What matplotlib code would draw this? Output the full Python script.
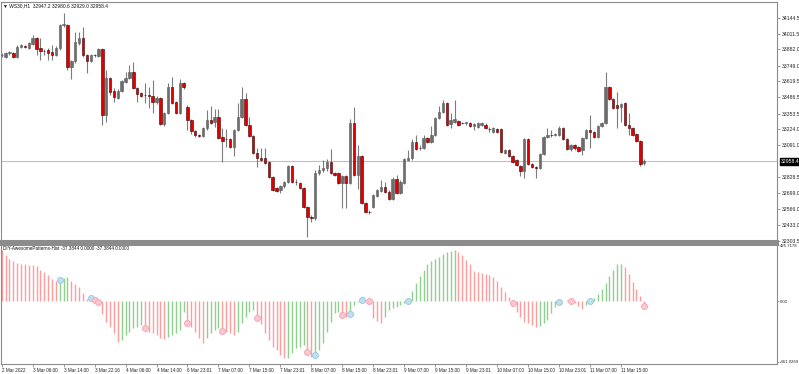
import numpy as np
import matplotlib.pyplot as plt

plt.rcParams['font.family'] = ['Liberation Sans', 'DejaVu Sans']

# WS30 H1 candles
opens = [
    33835, 33820, 33853, 33853, 33820, 33903, 33911, 33894, 33927, 33977,
    33894, 33870, 33878, 33861, 33837, 33894, 34084, 34084, 33738, 33787,
    33936, 33977, 33837, 33787, 33837, 33828, 33886, 33341, 33647, 33539,
    33482, 33539, 33614, 33647, 33696, 33564, 33523, 33506, 33506, 33498,
    33449, 33482, 33267, 33358, 33572, 33449, 33358, 33605, 33407, 33300,
    33209, 33176, 33168, 33234, 33300, 33283, 33325, 33160, 33143, 33143,
    33077, 33217, 33325, 33473, 33259, 33168, 33027, 32986, 32986, 32953,
    32829, 32738, 32722, 32755, 32788, 32920, 32788, 32780, 32738, 32582,
    32499, 32491, 32862, 32887, 32904, 32953, 32862, 32862, 32780, 32838,
    32780, 33275, 32846, 33003, 32615, 32540, 32582, 32672, 32714, 32747,
    32705, 32648, 32813, 32697, 32780, 32970, 32986, 33118, 33069, 33069,
    33151, 33118, 33176, 33316, 33366, 33440, 33267, 33283, 33292, 33275,
    33275, 33275, 33250, 33242, 33259, 33259, 33226, 33201, 33226, 33226,
    33027, 33052, 33003, 32970, 32920, 32879, 33143, 32937, 32912, 32904,
    33019, 33160, 33176, 33176, 33176, 33234, 33143, 33060, 33093, 33077,
    33052, 33151, 33217, 33201, 33160, 33250, 33275, 33572, 33473, 33424,
    33407, 33440, 33259, 33234, 33184, 33126, 32947.2]

closes = [
    33840, 33853, 33855, 33820, 33903, 33919, 33903, 33936, 33977, 33886,
    33870, 33868, 33853, 33837, 33894, 34084, 34086, 33738, 33787, 33944,
    33977, 33837, 33787, 33837, 33835, 33886, 33341, 33647, 33531, 33490,
    33539, 33622, 33647, 33696, 33564, 33515, 33498, 33504, 33498, 33449,
    33482, 33267, 33358, 33572, 33440, 33358, 33605, 33572, 33300, 33209,
    33176, 33170, 33234, 33300, 33275, 33325, 33151, 33126, 33141, 33077,
    33217, 33325, 33473, 33259, 33168, 33027, 32986, 32970, 32945, 32829,
    32722, 32714, 32755, 32788, 32920, 32788, 32786, 32738, 32582, 32499,
    32491, 32862, 32887, 32904, 32953, 32862, 32846, 32780, 32838, 32780,
    33275, 32846, 33003, 32615, 32540, 32538, 32681, 32722, 32747, 32705,
    32648, 32813, 32697, 32788, 32978, 32986, 33118, 33060, 33067, 33151,
    33118, 33176, 33316, 33366, 33440, 33259, 33300, 33308, 33259, 33273,
    33277, 33250, 33267, 33275, 33275, 33234, 33224, 33234, 33201, 33036,
    33052, 33003, 32953, 32928, 32879, 33143, 32937, 32912, 32904, 33019,
    33160, 33176, 33174, 33178, 33234, 33143, 33060, 33093, 33069, 33044,
    33151, 33217, 33201, 33160, 33250, 33275, 33572, 33473, 33399, 33399,
    33432, 33259, 33234, 33176, 33126, 32937, 32958.4]

highs = [
    33853, 33861, 33870, 33861, 33919, 33927, 33919, 33944, 34002, 33985,
    33977, 33886, 33894, 33919, 33911, 34092, 34183, 34092, 33795, 34026,
    34026, 34068, 33845, 33845, 33845, 33894, 33894, 33713, 33655, 33564,
    33556, 33630, 33696, 33754, 33779, 33572, 33531, 33605, 33572, 33630,
    33498, 33490, 33366, 33605, 33655, 33457, 33638, 33614, 33424, 33308,
    33217, 33184, 33242, 33382, 33415, 33391, 33391, 33234, 33226, 33151,
    33226, 33440, 33572, 33523, 33325, 33176, 33069, 33069, 33069, 32961,
    32838, 32747, 32763, 32796, 32928, 32928, 32813, 32788, 32747, 32590,
    32515, 32887, 32928, 32970, 32978, 33060, 32871, 32871, 32846, 32846,
    33308, 33407, 33093, 33011, 32623, 32557, 32689, 32730, 32805, 32788,
    32722, 32829, 32846, 32805, 32986, 33052, 33143, 33176, 33093, 33176,
    33160, 33250, 33325, 33415, 33465, 33449, 33358, 33465, 33300, 33283,
    33283, 33283, 33275, 33283, 33283, 33275, 33242, 33242, 33234, 33234,
    33060, 33060, 33011, 32978, 32928, 33151, 33151, 32945, 32920, 33027,
    33168, 33234, 33217, 33193, 33250, 33242, 33151, 33102, 33102, 33085,
    33160, 33226, 33341, 33209, 33259, 33283, 33696, 33581, 33482, 33531,
    33440, 33449, 33358, 33242, 33193, 33135, 32980.6]

lows = [
    33820, 33812, 33837, 33812, 33812, 33894, 33894, 33886, 33919, 33837,
    33795, 33837, 33795, 33795, 33828, 33878, 34068, 33713, 33638, 33771,
    33919, 33820, 33688, 33779, 33820, 33820, 33259, 33283, 33506, 33449,
    33473, 33531, 33605, 33638, 33556, 33449, 33490, 33440, 33399, 33358,
    33432, 33259, 33250, 33349, 33432, 33349, 33349, 33556, 33217, 33184,
    33160, 33160, 33160, 33217, 33267, 33242, 33143, 32953, 33077, 33069,
    33003, 33209, 33316, 33250, 33160, 33019, 32912, 32961, 32937, 32821,
    32714, 32705, 32697, 32738, 32780, 32780, 32763, 32730, 32573, 32334,
    32458, 32474, 32846, 32871, 32879, 32854, 32838, 32771, 32573, 32573,
    32771, 32838, 32730, 32606, 32532, 32524, 32573, 32664, 32705, 32697,
    32639, 32639, 32689, 32689, 32771, 32961, 32970, 33052, 33052, 33060,
    33110, 33110, 33168, 33308, 33358, 33250, 33234, 33275, 33250, 33267,
    33259, 33242, 33217, 33234, 33250, 33226, 33201, 33193, 33193, 33027,
    33019, 32994, 32945, 32920, 32838, 32821, 32928, 32904, 32821, 32895,
    33011, 33151, 33160, 33168, 33168, 33135, 33052, 33044, 33052, 33036,
    33011, 33143, 33069, 33151, 33151, 33242, 33267, 33465, 33391, 33234,
    33283, 33250, 33176, 33168, 33118, 32920, 32929.0]

# DIY-AwesomePatterns-Hist values
ao = [
    388, 350, 324, 306, 291, 286, 281, 279, 276, 266,
    241, 223, 198, 172, 155, 160, 180, 182, 154, 134,
    104, 63, 15, 22, 8, -3, -101, -157, -195, -246,
    -309, -296, -258, -233, -208, -195, -182, -208, -233, -246,
    -258, -279, -289, -276, -258, -246, -220, -81, -170, -195,
    -233, -284, -322, -284, -246, -220, -208, -225, -233, -246,
    -258, -233, -170, -119, -81, -68, -132, -177, -246, -296,
    -347, -372, -410, -436, -430, -398, -360, -347, -334, -385,
    -423, -410, -372, -322, -233, -157, -94, -81, -106, -119,
    -99, -30, -10, 5, 3, -2, -132, -152, -170, -119,
    -68, -51, -43, -30, -15, 3, 79, 139, 190, 241,
    281, 306, 319, 337, 362, 375, 382, 388, 375, 350,
    317, 281, 231, 223, 215, 210, 198, 185, 152, 109,
    71, 33, -18, -81, -124, -157, -170, -182, -200, -190,
    -170, -144, -94, -43, -5, 3, 6, -2, -15, -35,
    -61, -30, 0, 20, 58, 89, 139, 190, 241, 281,
    285, 261, 210, 147, 89, 38, -37.3844]

blue_idx = [15, 23, 81, 90, 93, 105, 144, 152]
pink_idx = [24, 25, 37, 48, 57, 66, 79, 88, 95, 132, 147, 166]

price_ticks = [34144.5, 34011.5, 33882.0, 33749.0, 33619.5, 33486.5, 33353.5,
               33224.0, 33091.0, 32828.5, 32699.0, 32566.0, 32433.0, 32303.5]
ao_ticks = [425.7178, 0.0, -461.9269]
ao_tick_labels = ['425.7178', '0.00', '-461.9269']
time_labels = ['2 Mar 2022', '3 Mar 06:00', '3 Mar 14:00', '3 Mar 22:16', '4 Mar 06:00',
               '4 Mar 14:00', '6 Mar 23:01', '7 Mar 07:00', '7 Mar 15:00', '7 Mar 23:01',
               '8 Mar 07:00', '8 Mar 15:00', '8 Mar 23:01', '9 Mar 07:00', '9 Mar 15:00',
               '9 Mar 23:01', '10 Mar 07:00', '10 Mar 15:00', '10 Mar 23:01', '11 Mar 07:00',
               '11 Mar 15:00']

opens = np.array(opens)
closes = np.array(closes)
highs = np.array(highs)
lows = np.array(lows)
ao = np.array(ao)
x = np.arange(len(closes))

W, H = 799, 374
fig = plt.figure(figsize=(W / 100, H / 100), dpi=100)
ax1 = fig.add_axes([1 / W, 1 - 241 / H, 776 / W, 239 / H])
ax2 = fig.add_axes([1 / W, 1 - 364 / H, 776 / W, 120 / H], sharex=ax1)

frame = '#8c8c8c'
fs = 3.7      # price scale labels
fs_time = 3.3  # time scale labels

# candles
up = closes >= opens
body_lo = np.minimum(opens, closes)
body_h = np.maximum(np.abs(closes - opens), 5)
ax1.vlines(x, lows, highs, color='#7c7c7c', lw=0.8, zorder=2)
ax1.bar(x[up], body_h[up], bottom=body_lo[up], width=0.62,
        color='#6d6d6d', edgecolor='#5c5c5c', lw=0.4, zorder=3)
ax1.bar(x[~up], body_h[~up], bottom=body_lo[~up], width=0.62,
        color='#e00000', edgecolor='#3c0000', lw=0.4, zorder=3)
ax1.axhline(closes[-1], color='#b8c2cc', lw=0.8, zorder=1)   # last price line

ax1.set_xlim(-0.18, 200.3)
ax1.set_ylim(32301, 34274)
ax1.yaxis.tick_right()
ax1.set_yticks(price_ticks)
ax1.set_yticklabels(['%.1f' % p for p in price_ticks])
ax1.tick_params(axis='y', length=2, width=0.6, color=frame, pad=1.5,
                labelsize=fs, labelcolor='#222222')
ax1.tick_params(axis='x', bottom=False, labelbottom=False)
ax1.annotate('%.1f' % closes[-1], xy=(1, closes[-1]), xycoords=('axes fraction', 'data'),
             xytext=(2.6, 0), textcoords='offset points', va='center', ha='left',
             fontsize=fs, color='white',
             bbox=dict(boxstyle='square,pad=0.15', fc='black', ec='black'))

# histogram
green, red = '#8fcf8f', '#ff9c9c'
rising = np.diff(ao, prepend=ao[0] + 1) > 0
ax2.vlines(x, 0, ao, colors=np.where(rising, green, red), lw=1.0)
ax2.plot(blue_idx, ao[blue_idx], 'o', ms=4.3, mfc='#bfe0ee', mec='#90c6de', mew=0.6)
ax2.plot(pink_idx, ao[pink_idx], 'o', ms=4.3, mfc='#ffc6d0', mec='#f2a2b2', mew=0.6)
ax2.set_ylim(-479.5, 435.6)
ax2.yaxis.tick_right()
ax2.set_yticks(ao_ticks)
ax2.set_yticklabels(ao_tick_labels)
ax2.tick_params(axis='y', length=1.5, width=0.6, color=frame, pad=0.6,
                labelsize=3.1, labelcolor='#222222')
ax2.set_xticks(np.arange(0, 8 * len(time_labels), 8))
ax2.set_xticklabels(time_labels)
ax2.tick_params(axis='x', length=2, width=0.6, color=frame, pad=1,
                labelsize=fs_time, labelcolor='#222222')
for lbl in ax2.get_xticklabels():
    lbl.set_ha('left')

for ax in (ax1, ax2):
    for s in ax.spines.values():
        s.set_color(frame)
        s.set_linewidth(0.8)
ax1.spines['bottom'].set_linewidth(2.2)
ax2.spines['top'].set_linewidth(2.2)

fig.text(3 / W, 1 - 6 / H, '\u25bc WS30,H1  32947.2 32980.6 32929.0 32958.4',
         fontsize=3.5, va='center', ha='left', color='#111111')
fig.text(3 / W, 1 - 248 / H, 'DIY-AwesomePatterns-Hist -37.3844 0.0000 -37.3844 0.0000',
         fontsize=3.3, va='center', ha='left', color='#111111')

fig.savefig('out.png', dpi=100, facecolor='white')
